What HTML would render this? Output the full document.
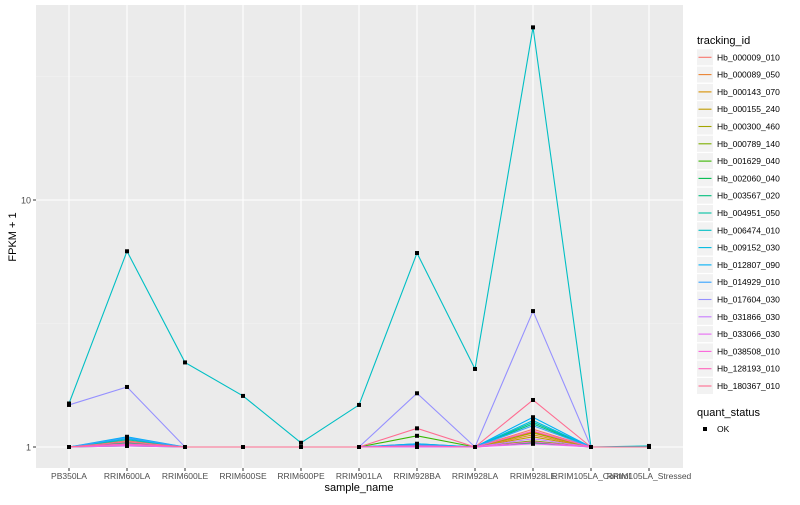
<!DOCTYPE html>
<html><head><meta charset="utf-8"><style>
body{margin:0;background:#fff;font-family:"Liberation Sans",sans-serif}
svg text{font-family:"Liberation Sans",sans-serif}
</style></head><body>
<svg id="chart" width="800" height="500" xmlns="http://www.w3.org/2000/svg"></svg>
<script>
const categories=["PB350LA","RRIM600LA","RRIM600LE","RRIM600SE","RRIM600PE","RRIM901LA","RRIM928BA","RRIM928LA","RRIM928LE","RRIM105LA_Control","RRIM105LA_Stressed"];
const seriesNames=["Hb_000009_010","Hb_000089_050","Hb_000143_070","Hb_000155_240","Hb_000300_460","Hb_000789_140","Hb_001629_040","Hb_002060_040","Hb_003567_020","Hb_004951_050","Hb_006474_010","Hb_009152_030","Hb_012807_090","Hb_014929_010","Hb_017604_030","Hb_031866_030","Hb_033066_030","Hb_038508_010","Hb_128193_010","Hb_180367_010"];
const seriesColors=["#F8766D","#EA8331","#D89000","#C09B00","#A3A500","#7CAE00","#39B600","#00BB4E","#00BF7D","#00C1A3","#00BFC4","#00BAE0","#00B0F6","#35A2FF","#9590FF","#C77CFF","#E76BF3","#FA62DB","#FF62BC","#FF6C91"];
const seriesValues=[
[1,1.06,1,1,1,1,1.02,1,1.18,1,1],
[1,1.05,1,1,1,1,1.01,1,1.12,1,1],
[1,1.04,1,1,1,1,1.01,1,1.15,1,1],
[1,1.03,1,1,1,1,1.01,1,1.10,1,1],
[1,1.05,1,1,1,1,1.02,1,1.14,1,1],
[1,1.02,1,1,1,1,1.01,1,1.06,1,1],
[1,1.03,1,1,1,1,1.11,1,1.05,1,1],
[1,1.01,1,1,1,1,1,1,1.04,1,1],
[1,1.04,1,1,1,1,1.01,1,1.24,1,1],
[1,1.07,1,1,1,1,1.03,1,1.26,1,1],
[1.5,6.2,2.2,1.61,1.04,1.48,6.1,2.07,50,1,1.01],
[1,1.08,1,1,1,1,1.02,1,1.28,1,1],
[1,1.10,1,1,1,1,1.03,1,1.32,1,1],
[1,1.09,1,1,1,1,1.02,1,1.22,1,1],
[1.48,1.75,1,1,1,1,1.65,1,3.55,1,1],
[1,1.02,1,1,1,1,1,1,1.08,1,1],
[1,1.01,1,1,1,1,1,1,1.03,1,1],
[1,1.02,1,1,1,1,1.01,1,1.05,1,1],
[1,1.03,1,1,1,1,1.01,1,1.16,1,1],
[1,1.05,1,1,1,1,1.19,1,1.55,1,1]];
const yTicks=[1,10];
const yMinor=[Math.sqrt(10),Math.sqrt(1000)];
const NS="http://www.w3.org/2000/svg";
const svg=document.getElementById("chart");
const P={l:36,r:683,t:5,b:468};
const xs=i=>69+58*i;
const ys=v=>447-Math.log10(v)*247;
function mk(tag,attrs,parent){const e=document.createElementNS(NS,tag);for(const k in attrs)e.setAttribute(k,attrs[k]);(parent||svg).appendChild(e);return e;}
const bg=mk("rect",{x:P.l,y:P.t,width:P.r-P.l,height:P.b-P.t,fill:"#EBEBEB"});


yMinor.forEach(v=>{const l=mk("line",{x1:P.l,x2:P.r,y1:ys(v),y2:ys(v),stroke:"#F4F4F4","stroke-width":0.6});

});
yTicks.forEach(v=>{const l=mk("line",{x1:P.l,x2:P.r,y1:ys(v),y2:ys(v),stroke:"#fff","stroke-width":1.1});


const tk=mk("line",{x1:P.l-3,x2:P.l,y1:ys(v),y2:ys(v),stroke:"#333"});


const t=mk("text",{x:P.l-5,y:ys(v)+3.5,"text-anchor":"end","font-size":"9","fill":"#4D4D4D"});t.textContent=v;

});
categories.forEach((c,i)=>{const l=mk("line",{x1:xs(i),x2:xs(i),y1:P.t,y2:P.b,stroke:"#fff","stroke-width":1.1});


const tk=mk("line",{x1:xs(i),x2:xs(i),y1:P.b,y2:P.b+3,stroke:"#333"});


const t=mk("text",{x:xs(i),y:P.b+11,"text-anchor":"middle","font-size":"8.5","fill":"#4D4D4D"});t.textContent=c;

});
seriesValues.forEach((vals,s)=>{const pl=mk("polyline",{points:vals.map((v,i)=>xs(i)+","+ys(v)).join(" "),fill:"none",stroke:seriesColors[s],"stroke-width":1.1});

});
seriesValues.forEach((vals,s)=>{vals.forEach((v,i)=>{const r=mk("rect",{x:xs(i)-2,y:ys(v)-2,width:4,height:4,fill:"#000"});

});});
const yt=mk("text",{x:16,y:237,"text-anchor":"middle","font-size":"11",transform:"rotate(-90 16 237)"});yt.textContent="FPKM + 1";


const xt=mk("text",{x:359,y:491,"text-anchor":"middle","font-size":"11"});xt.textContent="sample_name";


const lt=mk("text",{x:697,y:44,"font-size":"11"});lt.textContent="tracking_id";


seriesNames.forEach((n,s)=>{const y=57.3+s*17.3;
const g=mk("g",{});


mk("rect",{x:697,y:y-8,width:16,height:16,fill:"#F2F2F2"},g);
mk("line",{x1:698.5,x2:711.5,y1:y,y2:y,stroke:seriesColors[s],"stroke-width":1.1},g);
const t=mk("text",{x:717,y:y+3,"font-size":"8.5"},g);t.textContent=n;});
const qt=mk("text",{x:697,y:416,"font-size":"11"});qt.textContent="quant_status";


const qg=mk("g",{});


mk("rect",{x:697,y:421,width:16,height:16,fill:"#fff"},qg);
mk("rect",{x:703,y:427,width:4,height:4,fill:"#000"},qg);
const ok=mk("text",{x:717,y:432,"font-size":"8.5"},qg);ok.textContent="OK";
</script>
</body></html>
